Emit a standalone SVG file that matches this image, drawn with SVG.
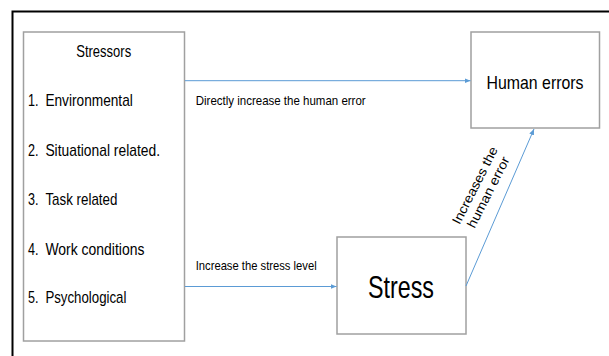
<svg xmlns="http://www.w3.org/2000/svg" width="609" height="356" viewBox="0 0 609 356">
<style>
text{font-family:"Liberation Sans",Arial,sans-serif;fill:#000}
.box{fill:#fff;stroke:#a0a0a0;stroke-width:1.5}
.conn{stroke:#5b9bd5;stroke-width:1;fill:none}
.item{font-size:17px}
.lbl{font-size:13px}
</style>
<defs>
<marker id="ah" markerUnits="userSpaceOnUse" markerWidth="6" markerHeight="6" refX="6" refY="3" orient="auto">
<path d="M0,0.5 L6,3 L0,5.5 Z" fill="#5b9bd5"/>
</marker>
</defs>
<rect width="609" height="356" fill="#fff"/>
<path d="M12.5,356 V11.5 H609" fill="none" stroke="#000" stroke-width="2"/>
<g id="stressors">
<rect class="box" x="23.5" y="32" width="161" height="309"/>
<text class="item" x="103.7" y="57" text-anchor="middle" textLength="55" lengthAdjust="spacingAndGlyphs">Stressors</text>
<text class="item" x="28" y="106" textLength="10.5" lengthAdjust="spacingAndGlyphs">1.</text>
<text class="item" x="45.4" y="106" textLength="87.4" lengthAdjust="spacingAndGlyphs">Environmental</text>
<text class="item" x="28" y="155.5" textLength="10.5" lengthAdjust="spacingAndGlyphs">2.</text>
<text class="item" x="45.4" y="155.5" textLength="114.6" lengthAdjust="spacingAndGlyphs">Situational related.</text>
<text class="item" x="28" y="205" textLength="10.5" lengthAdjust="spacingAndGlyphs">3.</text>
<text class="item" x="45.4" y="205" textLength="72" lengthAdjust="spacingAndGlyphs">Task related</text>
<text class="item" x="28" y="254.5" textLength="10.5" lengthAdjust="spacingAndGlyphs">4.</text>
<text class="item" x="45.4" y="254.5" textLength="99" lengthAdjust="spacingAndGlyphs">Work conditions</text>
<text class="item" x="28" y="303" textLength="10.5" lengthAdjust="spacingAndGlyphs">5.</text>
<text class="item" x="45.4" y="303" textLength="81" lengthAdjust="spacingAndGlyphs">Psychological</text>
</g>
<g id="human-errors">
<rect class="box" x="471" y="32" width="128.5" height="96"/>
<text x="535" y="88.5" font-size="19" text-anchor="middle" textLength="97" lengthAdjust="spacingAndGlyphs">Human errors</text>
</g>
<g id="stress">
<rect class="box" x="337" y="237" width="129" height="97"/>
<text x="401" y="298" font-size="32" text-anchor="middle" textLength="66" lengthAdjust="spacingAndGlyphs">Stress</text>
</g>
<g id="connectors">
<line class="conn" x1="185" y1="80.7" x2="470.5" y2="80.7" marker-end="url(#ah)"/>
<line class="conn" x1="185" y1="286.5" x2="336.5" y2="286.5" marker-end="url(#ah)"/>
<line class="conn" x1="466" y1="286" x2="534" y2="129" marker-end="url(#ah)"/>
<text class="lbl" x="195.7" y="105" textLength="170" lengthAdjust="spacingAndGlyphs">Directly increase the human error</text>
<text class="lbl" x="195.7" y="270" textLength="121" lengthAdjust="spacingAndGlyphs">Increase the stress level</text>
<g transform="translate(482,189) rotate(-63)">
<text class="lbl" x="0" y="-3.5" font-size="12.5" text-anchor="middle" textLength="85" lengthAdjust="spacingAndGlyphs">Increases the</text>
<text class="lbl" x="0" y="11.5" font-size="12.5" text-anchor="middle" textLength="78" lengthAdjust="spacingAndGlyphs">human error</text>
</g>
</g>
</svg>
